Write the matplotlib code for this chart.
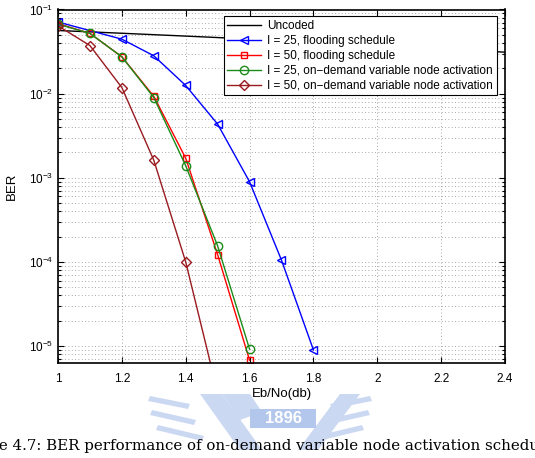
import numpy as np
import matplotlib
matplotlib.use("Agg")
import matplotlib.pyplot as plt
from matplotlib.patches import Polygon, Rectangle

plt.rcParams['font.family'] = ['Liberation Sans', 'DejaVu Sans']
plt.rcParams['mathtext.fontset'] = 'custom'
plt.rcParams['mathtext.rm'] = 'Liberation Sans'
plt.rcParams['mathtext.it'] = 'Liberation Sans'
plt.rcParams['mathtext.default'] = 'regular'

# ---------------- data ----------------
x_uncoded = [1.0, 1.2, 1.4, 1.6, 1.8, 2.0, 2.2, 2.4]
ber_uncoded = [0.0563, 0.0522, 0.0483, 0.0446, 0.0409, 0.0375, 0.0342, 0.0311]

x_flood25 = [1.0, 1.2, 1.3, 1.4, 1.5, 1.6, 1.7, 1.8]
ber_flood25 = [0.071, 0.0444, 0.0282, 0.0125, 0.00434, 0.000897, 1.05e-4, 9.0e-6]

x_flood50 = [1.0, 1.1, 1.2, 1.3, 1.4, 1.5, 1.6]
ber_flood50 = [0.068, 0.052, 0.0274, 0.0093, 0.00171, 1.22e-4, 6.8e-6]

x_ond25 = [1.0, 1.1, 1.2, 1.3, 1.4, 1.5, 1.6]
ber_ond25 = [0.067, 0.052, 0.0274, 0.0090, 0.00139, 1.55e-4, 9.2e-6]

x_ond50 = [1.0, 1.1, 1.2, 1.3, 1.4, 1.5]
ber_ond50 = [0.064, 0.0373, 0.0118, 0.00162, 1.0e-4, 2.8e-6]

labels = ["Uncoded",
          "I = 25, flooding schedule",
          "I = 50, flooding schedule",
          "I = 25, on\u2212demand variable node activation",
          "I = 50, on\u2212demand variable node activation"]

x_ticks = [1, 1.2, 1.4, 1.6, 1.8, 2, 2.2, 2.4]
x_ticklabels = ["1", "1.2", "1.4", "1.6", "1.8", "2", "2.2", "2.4"]
y_ticks = [1e-5, 1e-4, 1e-3, 1e-2, 1e-1]
y_ticklabels = [r"$10^{-5}$", r"$10^{-4}$", r"$10^{-3}$", r"$10^{-2}$", r"$10^{-1}$"]

caption_full = "Figure 4.7: BER performance of on-demand variable node activation schedule"
caption_hidden_prefix = "Figur"
caption_visible = "e 4.7: BER performance of on-demand variable node activation schedu"

# ---------------- figure ----------------
W, H = 535, 458
fig = plt.figure(figsize=(W / 100, H / 100), dpi=100)
ax = fig.add_axes([58 / W, 1 - 363 / H, (505 - 58) / W, (363 - 9.5) / H])

ms = 6
lw = 1.0
ax.semilogy(x_uncoded, ber_uncoded, color='k', lw=lw, label=labels[0])
ax.semilogy(x_flood25, ber_flood25, color='b', lw=lw, marker='<', ms=ms,
            mfc='none', mec='b', label=labels[1])
ax.semilogy(x_flood50, ber_flood50, color='r', lw=lw, marker='s', ms=5,
            mfc='none', mec='r', label=labels[2])
ax.semilogy(x_ond25, ber_ond25, color=(0.1, 0.55, 0.1), lw=lw, marker='o', ms=ms,
            mfc='none', mec=(0.1, 0.55, 0.1), label=labels[3])
ax.semilogy(x_ond50, ber_ond50, color=(0.6, 0.1, 0.12), lw=lw, marker='D', ms=5,
            mfc='none', mec=(0.6, 0.1, 0.12), label=labels[4])

ax.set_xlim(1, 2.4)
ax.set_ylim(6.3e-6, 1e-1)
ax.set_xticks(x_ticks)
ax.set_xticklabels(x_ticklabels)
ax.set_yticks(y_ticks)
ax.set_yticklabels(y_ticklabels)
ax.tick_params(which='both', direction='in', top=True, right=True, labelsize=8.5,
               width=0.8)
ax.tick_params(which='major', length=4)
ax.tick_params(which='minor', length=2)
ax.tick_params(axis='x', pad=7)
for s in ax.spines.values():
    s.set_linewidth(1.2)

ax.grid(True, which='major', axis='both', linestyle=(0, (1, 3)), color='0.55', lw=0.6)
ax.grid(True, which='minor', axis='y', linestyle=(0, (1, 3)), color='0.55', lw=0.6)

ax.set_xlabel("Eb/No(db)", fontsize=9.5, labelpad=2)
ax.set_ylabel("BER", fontsize=9.5, labelpad=8)

leg = ax.legend(loc='upper right', bbox_to_anchor=(0.981, 0.9805), fontsize=8.5,
                fancybox=False, framealpha=1, edgecolor='k', borderaxespad=0,
                handlelength=2.9, labelspacing=0.25, borderpad=0.3, handletextpad=0.5)
leg.get_frame().set_linewidth(0.8)

# ---------------- watermark (approximate logo) ----------------
def px(xp, yp):
    return (xp / W, 1 - yp / H)

wm = '#cbd8f2'
shapes = [
    [(150, 396), (190, 404), (188, 409), (148, 401)],
    [(152, 410), (196, 420), (194, 425), (150, 415)],
    [(158, 425), (204, 436), (202, 441), (156, 430)],
    [(200, 394), (222, 394), (262, 450), (240, 450)],
    [(222, 394), (250, 394), (262, 412), (240, 420)],
    [(370, 396), (330, 404), (332, 409), (372, 401)],
    [(368, 410), (324, 420), (326, 425), (370, 415)],
    [(362, 425), (316, 436), (318, 441), (364, 430)],
    [(340, 394), (360, 394), (318, 450), (298, 450)],
]
for pts in shapes:
    fig.patches.append(Polygon([px(*p) for p in pts], closed=True,
                               transform=fig.transFigure, facecolor=wm,
                               edgecolor='none', zorder=0))
fig.patches.append(Rectangle(px(250, 428), 66 / W, 19 / H, transform=fig.transFigure,
                             facecolor='#b3c6ec', edgecolor='none', zorder=0))
fig.text(283 / W, 1 - 418.5 / H, "1896", color='white', fontsize=12, fontweight='bold',
         ha='center', va='center', zorder=1)

# ---------------- caption ----------------
fig.canvas.draw()
rend = fig.canvas.get_renderer()
probe = fig.text(0, 0, caption_visible, fontsize=10, family='DejaVu Serif')
vw = probe.get_window_extent(rend).width
probe.remove()
cap_fs = 10 * 540 / vw
probe = fig.text(0, 0, caption_hidden_prefix, fontsize=cap_fs, family='DejaVu Serif')
pw = probe.get_window_extent(rend).width
probe.remove()
fig.text((-pw - 1) / W, 1 - 446 / H, caption_full, fontsize=cap_fs, family='DejaVu Serif',
         ha='left', va='center', color='k', zorder=2)

fig.savefig("out.png", dpi=100)
